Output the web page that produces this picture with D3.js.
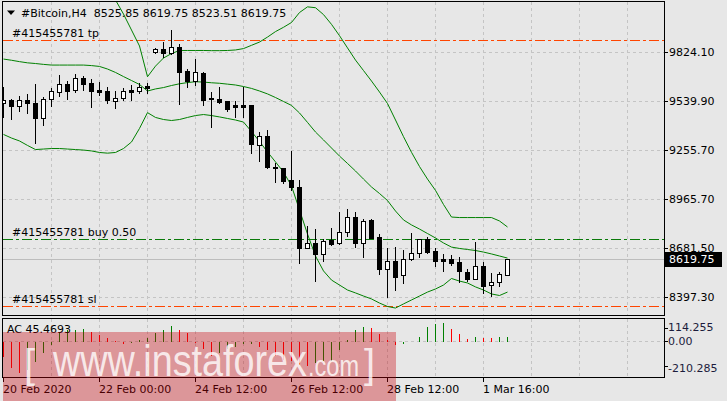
<!DOCTYPE html>
<html>
<head>
<meta charset="utf-8">
<script src="https://cdn.jsdelivr.net/npm/d3@7"></script>
<style>
    html, body { margin: 0; padding: 0; background: #e7e7e7; }
    svg { display: block; font-family: "DejaVu Sans", sans-serif; font-size: 11px; }
</style>
</head>
<body>
<svg id="chart" width="727" height="401"></svg>
<script>
// #Bitcoin H4 candles, oldest first
const opens = [9525.3, 9544.5, 9507.8, 9544.5, 9527.1, 9441.4, 9548.6, 9592.9, 9636.0, 9601.0,
    9672.7, 9643.5, 9602.8, 9597.0, 9540.5, 9554.4, 9602.8, 9598.7, 9626.1, 9822.3,
    9841.5, 9820.0, 9854.9, 9715.2, 9656.9, 9703.5, 9557.9, 9550.4, 9538.7, 9513.7,
    9513.7, 9515.4, 9280.7, 9334.9, 9156.1, 9146.8, 9078.6, 9036.1, 8680.9, 8710.0,
    8645.9, 8729.2, 8710.0, 8777.6, 8861.4, 8710.0, 8845.7, 8745.0, 8558.6, 8608.7,
    8525.4, 8616.8, 8651.8, 8733.3, 8665.2, 8616.8, 8618.6, 8601.1, 8542.9, 8505.0,
    8577.8, 8465.4, 8484.6, 8525.85];
const highs = [9620.2, 9550.4, 9567.8, 9579.5, 9639.5, 9563.8, 9616.2, 9691.9, 9655.2, 9696.0,
    9684.3, 9668.6, 9651.1, 9622.0, 9597.0, 9612.7, 9631.9, 9641.8, 9641.8, 9847.4,
    9884.1, 9952.2, 9870.7, 9725.1, 9783.3, 9707.6, 9592.9, 9622.0, 9540.0, 9538.7,
    9622.0, 9516.0, 9359.9, 9369.8, 9175.9, 9150.3, 9247.5, 9078.6, 8810.7, 8793.3,
    8733.3, 8800.8, 8890.5, 8909.7, 8890.5, 8849.8, 8849.8, 8764.2, 8680.9, 8690.2,
    8671.0, 8768.2, 8736.0, 8745.0, 8685.5, 8649.4, 8643.6, 8628.5, 8563.2, 8719.3,
    8601.1, 8538.8, 8544.6, 8619.75];
const lows = [9445.5, 9433.9, 9480.5, 9467.1, 9295.9, 9398.9, 9511.3, 9569.6, 9552.1, 9591.1,
    9602.8, 9505.5, 9573.6, 9528.8, 9499.7, 9544.5, 9544.5, 9583.6, 9583.6, 9818.2,
    9796.7, 9815.3, 9521.2, 9622.0, 9631.9, 9515.4, 9389.0, 9528.8, 9480.5, 9447.3,
    9447.3, 9237.6, 9191.0, 9150.0, 9068.7, 9059.4, 9020.4, 8593.5, 8680.0, 8492.2,
    8608.7, 8700.1, 8704.2, 8752.5, 8690.2, 8632.0, 8739.1, 8531.2, 8399.0, 8438.0,
    8477.1, 8615.0, 8632.0, 8651.8, 8576.1, 8550.4, 8581.9, 8483.5, 8490.4, 8500.3,
    8422.3, 8403.1, 8461.3, 8523.51];
const closes = [9544.5, 9511.3, 9544.5, 9525.3, 9441.4, 9548.6, 9597.0, 9636.0, 9598.7, 9670.9,
    9639.5, 9598.7, 9592.9, 9544.5, 9554.4, 9597.0, 9592.9, 9618.5, 9616.2, 9841.5,
    9820.0, 9854.9, 9709.3, 9656.9, 9709.3, 9544.5, 9548.6, 9534.6, 9492.1, 9505.5,
    9505.5, 9286.5, 9334.9, 9152.6, 9146.8, 9074.6, 9036.1, 8680.9, 8710.0, 8645.9,
    8725.1, 8704.2, 8777.6, 8861.4, 8710.0, 8841.6, 8742.6, 8558.6, 8608.7, 8515.5,
    8620.3, 8651.8, 8733.3, 8659.3, 8608.7, 8606.9, 8597.0, 8550.4, 8505.0, 8577.8,
    8464.2, 8484.6, 8531.2, 8619.75];

// Bollinger bands, one value per candle
const bandUpper = [10223, 10228, 10231, 10243, 10258, 10246, 10235, 10235, 10238, 10240,
    10243, 10243, 10240, 10215, 10127, 10045, 9952, 9859, 9680, 9742,
    9789, 9815, 9833, 9833, 9833, 9833, 9832, 9832, 9833, 9836,
    9844, 9863, 9882, 9911, 9943, 9968, 9996, 10054, 10087, 10082,
    10042, 9985, 9919, 9848, 9777, 9716, 9655, 9591, 9524, 9428,
    9331, 9240, 9157, 9084, 9018, 8936, 8863, 8860, 8860, 8860,
    8860, 8860, 8840, 8805];
const bandMiddle = [9783, 9776, 9768, 9761, 9757, 9752, 9748, 9748, 9748, 9748,
    9748, 9745, 9740, 9725, 9705, 9681, 9658, 9635, 9597, 9609,
    9617, 9629, 9639, 9646, 9651, 9649, 9645, 9642, 9637, 9632,
    9623, 9612, 9597, 9580, 9559, 9536, 9513, 9469, 9414, 9358,
    9312, 9265, 9218, 9175, 9131, 9084, 9038, 9000, 8959, 8898,
    8846, 8817, 8793, 8767, 8741, 8712, 8688, 8680, 8674, 8668,
    8659, 8648, 8636, 8624];
const bandLower = [9344, 9323, 9306, 9280, 9256, 9259, 9262, 9262, 9259, 9256,
    9253, 9248, 9239, 9235, 9239, 9262, 9300, 9379, 9471, 9443,
    9431, 9425, 9431, 9443, 9454, 9460, 9454, 9446, 9437, 9428,
    9416, 9361, 9303, 9242, 9184, 9125, 9044, 8904, 8764, 8636,
    8549, 8496, 8467, 8438, 8421, 8403, 8386, 8362, 8342, 8333,
    8357, 8380, 8403, 8426, 8444, 8467, 8505, 8490, 8479, 8456,
    8438, 8415, 8406, 8426];

// Accelerator oscillator
const acValues = [-132, -226, -270, -240, -170, -94, -30, 82, 103, 105,
    108, 82, 59, 29, 5, -15, -8, 15, 29, 73,
    105, 135, 105, 73, -6, -64, -123, -94, -64, -44,
    -20, -15, -44, -73, -123, -152, -167, -196, -202, -182,
    -167, -160, -73, 15, 103, 126, 120, 67, 15, -26,
    -20, -5, 38, 126, 155, 158, 111, 67, 23, 38,
    35, 32, 38, 45.4693];

const priceTicks = [9824.10, 9539.90, 9255.70, 8965.70, 8681.50, 8397.30];
const acTicks = [114.255, 0, -210.285];
const timeTickIndex = [0, 12, 24, 36, 48, 60];
const timeTickLabels = ['20 Feb 2020', '22 Feb 00:00', '24 Feb 12:00', '26 Feb 12:00', '28 Feb 12:00', '1 Mar 16:00'];

const orderNames = ['#415455781 tp', '#415455781 buy 0.50', '#415455781 sl'];
const orderPrices = [9894, 8733.4, 8345];
const orderColors = ['#ff4500', '#0a7a0a', '#ff4500'];

/**
 * MT4 style candle chart with bands and an AC sub window
 *
 * @param element svg element
 * @constructor
 */
function CandleChart(element) {
    this.element = element;
    this.svg = null;

    this.config = {
        left: 2.5,
        right: 664.5,
        top: 1.5,
        bottom: 315.5,
        acTop: 318.5,
        acBottom: 377.5,

        firstX: 3,
        barStep: 8,

        gridColor: '#c4c4c4',
        bandColor: '#008000',
        upColor: '#008000',
        downColor: '#ff0000'
    };

    this.x = undefined;
    this.y = undefined;
    this.acY = undefined;

    this.init = function () {
        this.element.innerHTML = '';
        this.setup();
    };

    this.setup = function () {
        let me = this;
        let c = me.config;
        let idx = d3.range(opens.length);

        me.x = d3.scaleLinear()
            .domain([0, 1])
            .range([c.firstX, c.firstX + c.barStep]);
        me.y = d3.scaleLinear()
            .domain([8397.3, 9824.1])
            .range([297, 52]);
        me.acY = d3.scaleLinear()
            .domain([-210.285, 114.255])
            .range([365.5, 327.5]);

        let px = (i) => Math.round(me.x(i));

        me.svg = d3.select(me.element);

        let defs = me.svg.append('defs');
        defs.append('clipPath').attr('id', 'clip-main')
            .append('rect')
            .attr('x', c.left).attr('y', c.top)
            .attr('width', c.right - c.left).attr('height', c.bottom - c.top);
        defs.append('clipPath').attr('id', 'clip-ac')
            .append('rect')
            .attr('x', c.left).attr('y', c.acTop)
            .attr('width', c.right - c.left).attr('height', c.acBottom - c.acTop);

        // grid
        let gridX = d3.range(6, 80, 6);
        let grid = me.svg.append('g')
            .attr('shape-rendering', 'crispEdges')
            .attr('stroke', c.gridColor)
            .attr('stroke-dasharray', '3,3');
        grid.selectAll('line.gx')
            .data(gridX)
            .enter().append('line')
            .attr('x1', d => px(d) + 0.5).attr('x2', d => px(d) + 0.5)
            .attr('y1', c.top).attr('y2', c.bottom);
        grid.selectAll('line.ax')
            .data(gridX)
            .enter().append('line')
            .attr('x1', d => px(d) + 0.5).attr('x2', d => px(d) + 0.5)
            .attr('y1', c.acTop).attr('y2', c.acBottom);
        grid.selectAll('line.gy')
            .data(priceTicks)
            .enter().append('line')
            .attr('x1', c.left).attr('x2', c.right)
            .attr('y1', d => Math.round(me.y(d)) + 0.5)
            .attr('y2', d => Math.round(me.y(d)) + 0.5);
        grid.append('line')
            .attr('x1', c.left).attr('x2', c.right)
            .attr('y1', Math.round(me.acY(0)) + 0.5)
            .attr('y2', Math.round(me.acY(0)) + 0.5);

        let main = me.svg.append('g').attr('clip-path', 'url(#clip-main)');

        // last price line
        let lastPrice = closes[closes.length - 1];
        main.append('line')
            .attr('shape-rendering', 'crispEdges')
            .attr('x1', c.left).attr('x2', c.right)
            .attr('y1', Math.round(me.y(lastPrice)) + 0.5)
            .attr('y2', Math.round(me.y(lastPrice)) + 0.5)
            .attr('stroke', '#bdbdbd');

        // order levels
        main.selectAll('line.order')
            .data(orderPrices)
            .enter().append('line')
            .attr('shape-rendering', 'crispEdges')
            .attr('x1', c.left).attr('x2', c.right)
            .attr('y1', d => Math.round(me.y(d)) + 0.5)
            .attr('y2', d => Math.round(me.y(d)) + 0.5)
            .attr('stroke', (d, i) => orderColors[i])
            .attr('stroke-width', 1.4)
            .attr('stroke-dasharray', '10,3,3,3');

        // bollinger bands
        let bandLine = d3.line()
            .x((d, i) => px(i) + 0.5)
            .y(d => me.y(d));
        main.selectAll('path.band')
            .data([bandUpper, bandMiddle, bandLower])
            .enter().append('path')
            .attr('d', bandLine)
            .attr('fill', 'none')
            .attr('stroke', c.bandColor)
            .attr('stroke-width', 1);

        // candles
        let cg = main.append('g').attr('shape-rendering', 'crispEdges');
        cg.selectAll('line.wick')
            .data(idx)
            .enter().append('line')
            .attr('x1', i => px(i) + 0.5).attr('x2', i => px(i) + 0.5)
            .attr('y1', i => Math.round(me.y(highs[i])))
            .attr('y2', i => Math.round(me.y(lows[i])) + 1)
            .attr('stroke', '#000');
        cg.selectAll('rect.body')
            .data(idx)
            .enter().append('rect')
            .attr('x', i => px(i) - 1.5)
            .attr('width', 4)
            .attr('y', i => Math.round(me.y(Math.max(opens[i], closes[i]))) + 0.5)
            .attr('height', i => Math.round(me.y(Math.min(opens[i], closes[i]))) - Math.round(me.y(Math.max(opens[i], closes[i]))))
            .attr('fill', i => closes[i] > opens[i] ? '#fff' : '#000')
            .attr('stroke', '#000');

        // order labels
        me.svg.selectAll('text.order')
            .data(orderPrices)
            .enter().append('text')
            .attr('x', 12)
            .attr('y', d => me.y(d) - 3)
            .attr('fill', '#000')
            .text((d, i) => orderNames[i]);

        // header
        me.svg.append('path')
            .attr('d', 'M7,10.5 L15,10.5 L11,15 Z')
            .attr('fill', '#000');
        me.svg.append('text')
            .attr('x', 21).attr('y', 16.5)
            .attr('fill', '#000')
            .style('white-space', 'pre')
            .text('#Bitcoin,H4  ' + [opens, highs, lows, closes].map(a => a[a.length - 1].toFixed(2)).join(' '));

        // AC histogram
        let ac = me.svg.append('g')
            .attr('clip-path', 'url(#clip-ac)')
            .attr('shape-rendering', 'crispEdges');
        ac.selectAll('line.bar')
            .data(acValues)
            .enter().append('line')
            .attr('x1', (d, i) => px(i) + 0.5).attr('x2', (d, i) => px(i) + 0.5)
            .attr('y1', Math.round(me.acY(0)) + 0.5)
            .attr('y2', d => Math.round(me.acY(d)) + 0.5)
            .attr('stroke', (d, i) => (i > 0 && d > acValues[i - 1]) ? c.upColor : c.downColor);
        me.svg.append('text')
            .attr('x', 7).attr('y', 333)
            .attr('fill', '#000')
            .text('AC ' + acValues[acValues.length - 1].toFixed(4));

        // frames
        let frames = me.svg.append('g')
            .attr('shape-rendering', 'crispEdges')
            .attr('fill', 'none')
            .attr('stroke', '#000');
        frames.append('rect')
            .attr('x', c.left).attr('y', c.top)
            .attr('width', c.right - c.left).attr('height', c.bottom - c.top);
        frames.append('rect')
            .attr('x', c.left).attr('y', c.acTop)
            .attr('width', c.right - c.left).attr('height', c.acBottom - c.acTop);

        // price axis
        let pa = me.svg.append('g');
        pa.selectAll('line')
            .data(priceTicks)
            .enter().append('line')
            .attr('shape-rendering', 'crispEdges')
            .attr('x1', c.right).attr('x2', c.right + 3)
            .attr('y1', d => Math.round(me.y(d)) + 0.5)
            .attr('y2', d => Math.round(me.y(d)) + 0.5)
            .attr('stroke', '#000');
        pa.selectAll('text')
            .data(priceTicks)
            .enter().append('text')
            .attr('x', 669)
            .attr('y', d => me.y(d))
            .attr('dy', '0.36em')
            .attr('fill', '#000')
            .text(d => d.toFixed(2));

        // last price marker
        pa.append('rect')
            .attr('x', 665).attr('y', Math.round(me.y(lastPrice)) - 7)
            .attr('width', 57).attr('height', 15)
            .attr('fill', '#000');
        pa.append('text')
            .attr('x', 669).attr('y', me.y(lastPrice) + 0.5)
            .attr('dy', '0.36em')
            .attr('fill', '#fff')
            .text(lastPrice.toFixed(2));

        // AC axis
        let aa = me.svg.append('g');
        aa.selectAll('line')
            .data(acTicks)
            .enter().append('line')
            .attr('shape-rendering', 'crispEdges')
            .attr('x1', c.right).attr('x2', c.right + 3)
            .attr('y1', d => Math.round(me.acY(d)) + 0.5)
            .attr('y2', d => Math.round(me.acY(d)) + 0.5)
            .attr('stroke', '#000');
        aa.selectAll('text')
            .data(acTicks)
            .enter().append('text')
            .attr('x', 668)
            .attr('y', d => me.acY(d))
            .attr('dy', (d, i) => i === acTicks.length - 1 ? '0.6em' : '0.36em')
            .attr('fill', '#1c1c3c')
            .text(d => d === 0 ? '0.00' : d.toFixed(3));

        // time axis
        let ta = me.svg.append('g');
        ta.selectAll('line')
            .data(timeTickIndex)
            .enter().append('line')
            .attr('shape-rendering', 'crispEdges')
            .attr('x1', d => px(d) + 0.5).attr('x2', d => px(d) + 0.5)
            .attr('y1', c.acBottom).attr('y2', c.acBottom + 4)
            .attr('stroke', '#000');
        ta.selectAll('text')
            .data(timeTickIndex)
            .enter().append('text')
            .attr('x', d => px(d))
            .attr('y', 393)
            .attr('fill', '#000')
            .text((d, i) => timeTickLabels[i]);

        // watermark
        let wm = me.svg.append('g');
        wm.append('rect')
            .attr('x', 3).attr('y', 332)
            .attr('width', 393).attr('height', 69)
            .attr('fill', 'rgba(200,0,10,0.35)');
        let wt = wm.append('g')
            .attr('fill', 'rgba(255,255,255,0.8)')
            .style('font-family', '"Liberation Sans", sans-serif');
        wt.append('text')
            .attr('x', 24).attr('y', 378)
            .style('font-size', '40px').style('font-weight', 300)
            .text('[');
        wt.append('text')
            .attr('x', 53).attr('y', 376)
            .attr('textLength', 254).attr('lengthAdjust', 'spacingAndGlyphs')
            .style('font-size', '44px')
            .text('www.instaforex');
        wt.append('text')
            .attr('x', 308).attr('y', 376)
            .attr('textLength', 51).attr('lengthAdjust', 'spacingAndGlyphs')
            .style('font-size', '30px')
            .text('.com');
        wt.append('text')
            .attr('x', 364).attr('y', 378)
            .style('font-size', '40px').style('font-weight', 300)
            .text(']');
    };

    this.init();
}

new CandleChart(document.getElementById('chart'));
</script>
</body>
</html>
